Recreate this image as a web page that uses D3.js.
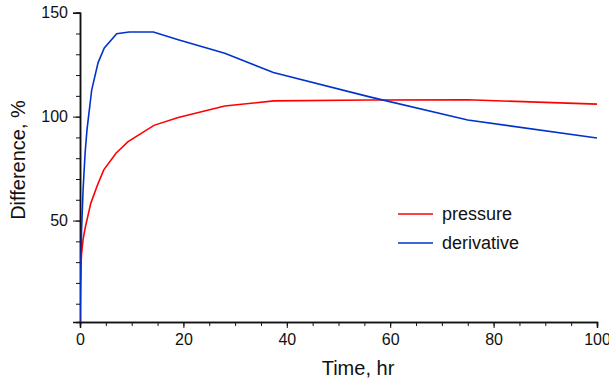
<!DOCTYPE html>
<html><head><meta charset="utf-8">
<script src="https://cdn.jsdelivr.net/npm/d3@7"></script>
<style>body{margin:0;background:#fff}svg{display:block}text{font-family:"Liberation Sans",Arial,sans-serif;fill:#111}</style>
</head><body>
<svg id="c" width="609" height="382"></svg>
<script>
const pressureT = [0, 0.05, 0.15, 0.3, 0.6, 1, 1.35, 2.1, 3.4, 4.6, 7, 9.3, 14.3, 19, 28, 37.5, 56, 75, 100];
const pressureV = [1, 18, 27, 34, 41, 46.5, 50.3, 58.4, 67.2, 74.4, 82.5, 88, 95.8, 99.6, 105.1, 107.6, 108, 108.1, 106];
const derivT = [0, 0.1, 0.3, 0.6, 1, 1.35, 2.26, 3.5, 4.7, 7.1, 9.5, 14.2, 19, 28, 37.4, 56, 75, 100];
const derivV = [1, 20, 45, 65, 83, 93.6, 112.8, 126, 133, 139.9, 140.7, 140.7, 137, 130.5, 121.2, 109.5, 98.4, 89.7];
const seriesNames = ["pressure", "derivative"];
const seriesColors = ["#ff0000", "#0033cc"];
const xTicks = [0, 20, 40, 60, 80, 100];
const yTicks = [50, 100, 150];

const svg = d3.select("#c");
const x = d3.scaleLinear().domain([0, 100]).range([80, 597]);
const y = d3.scaleLinear().domain([1.2, 150]).range([322, 12.7]);

// X axis
const gx = svg.append("g").attr("transform", "translate(0,322)");
gx.call(d3.axisBottom(x).tickValues(d3.range(0, 101, 5)).tickSize(4).tickFormat(""));
const gx2 = svg.append("g").attr("transform", "translate(0,322)");
gx2.call(d3.axisBottom(x).tickValues(xTicks).tickSize(6).tickPadding(6).tickFormat(d3.format("d")));
gx2.selectAll("text").attr("font-size", 16).attr("fill", "#111");

// Y axis
const gy = svg.append("g").attr("transform", "translate(80,0)");
gy.call(d3.axisLeft(y).tickValues(d3.range(10, 151, 10)).tickSize(4).tickFormat(""));
const gy2 = svg.append("g").attr("transform", "translate(80,0)");
gy2.call(d3.axisLeft(y).tickValues(yTicks).tickSize(7).tickPadding(5).tickFormat(d3.format("d")));
gy2.selectAll("text").attr("font-size", 16).attr("fill", "#111");
svg.selectAll(".domain").attr("stroke", "#111").attr("stroke-width", 1.5);
svg.selectAll(".tick line").attr("stroke", "#111");

// Axis titles
svg.append("text").attr("x", 358).attr("y", 375).attr("text-anchor", "middle").attr("font-size", 20).text("Time, hr");
svg.append("text").attr("transform", "translate(25,160) rotate(-90)").attr("text-anchor", "middle").attr("font-size", 20).text("Difference, %");

// Lines
const line = d3.line().x(d => x(d[0])).y(d => y(d[1]));
const data = [pressureT.map((t, i) => [t, pressureV[i]]), derivT.map((t, i) => [t, derivV[i]])];
svg.append("clipPath").attr("id", "clp").append("rect").attr("x", 80).attr("y", 0).attr("width", 530).attr("height", 322);
data.forEach((d, i) => {
  svg.append("path").datum(d).attr("d", line).attr("fill", "none")
    .attr("stroke", seriesColors[i]).attr("stroke-width", 1.6).attr("clip-path", "url(#clp)");
});

// Legend
seriesNames.forEach((n, i) => {
  const yy = 214 + i * 29;
  svg.append("line").attr("x1", 398).attr("x2", 433).attr("y1", yy).attr("y2", yy)
    .attr("stroke", seriesColors[i]).attr("stroke-width", 1.6);
  svg.append("text").attr("x", 442).attr("y", yy + 6).attr("font-size", 18).text(n);
});
</script>
</body></html>
